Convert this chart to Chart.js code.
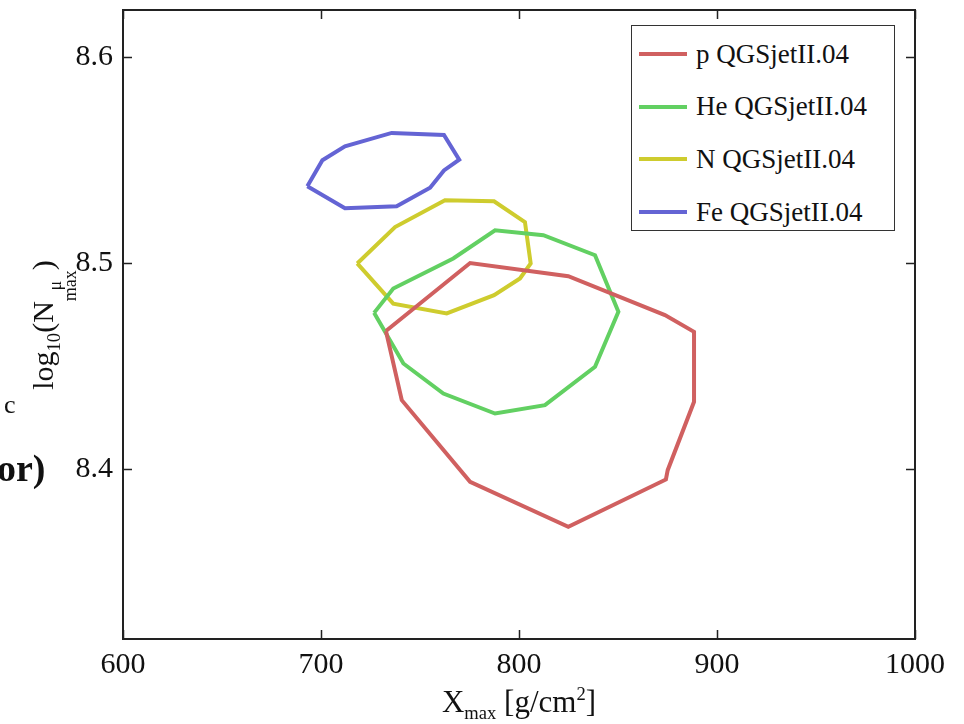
<!DOCTYPE html>
<html>
<head>
<meta charset="utf-8">
<script src="https://cdn.jsdelivr.net/npm/chart.js@4"></script>
<style>
    body { margin: 0; background: #fff; }
    #wrap { position: relative; width: 964px; height: 724px; font-family: "Liberation Serif", serif; color: #111; }
    #myChart { position: absolute; left: 0; top: 0; }
    .txt { position: absolute; white-space: nowrap; line-height: 1; }
    #legend { position: absolute; left: 631px; top: 25px; width: 262px; height: 204px; border: 1.5px solid #333; background: #fff; }
    .row { position: absolute; left: 0; height: 30px; display: flex; align-items: center; font-size: 27px; }
    .swatch { display: inline-block; width: 48px; height: 4px; margin-left: 7px; margin-right: 9px; }
    .stack { display: inline-flex; flex-direction: column; vertical-align: -0.42em; font-size: 0.6em; line-height: 0.85; text-align: center; }
</style>
</head>
<body>
<div id="wrap">
    <canvas id="myChart" width="964" height="724"></canvas>

    <!-- fragments of the neighbouring slide, cut off at the left edge -->
    <div class="txt" style="left:4px; top:392px; font-size:26px;">c</div>
    <div class="txt" style="left:-3px; top:449px; font-size:38px; font-weight:bold;">or)</div>

    <div class="txt" id="ytitle" style="left:53px; top:325px; font-size:30px; transform: translate(-50%, -50%) rotate(-90deg);">
        log<sub style="font-size:0.62em">10</sub>(N<span class="stack"><span>&mu;</span><span>max</span></span>)
    </div>
    <div class="txt" id="xtitle" style="left:519px; top:704px; font-size:31px; transform: translate(-50%, -50%);">
        X<sub style="font-size:0.6em">max</sub> [g/cm<sup style="font-size:0.6em">2</sup>]
    </div>

    <div id="legend"></div>
</div>

<script>
    // Contour points (Xmax in g/cm2, log10 of muon number)
    var pX  = [732.8, 775.3, 824.9, 873.7, 888.4, 888.4, 875.1, 874.2, 824.9, 775.3, 740.8];
    var pY  = [8.4671, 8.5001, 8.4937, 8.4748, 8.4667, 8.4327, 8.3995, 8.3950, 8.3720, 8.3938, 8.4335];

    var heX = [726.8, 736.5, 766.8, 787.9, 812.3, 838.4, 850.2, 838.4, 813.1, 787.9, 761.8, 741.6];
    var heY = [8.4759, 8.4877, 8.5023, 8.5160, 8.5136, 8.5039, 8.4764, 8.4497, 8.4311, 8.4270, 8.4367, 8.4513];

    var nX  = [718.3, 737.4, 762.6, 787.4, 803.0, 805.9, 800.5, 787.4, 763.5, 736.5];
    var nY  = [8.4999, 8.5176, 8.5306, 8.5301, 8.5200, 8.4999, 8.4926, 8.4845, 8.4756, 8.4804];

    var feX = [693.1, 700.7, 712.1, 735.7, 762.1, 769.8, 762.1, 755.1, 738.2, 712.1];
    var feY = [8.5374, 8.5500, 8.5568, 8.5633, 8.5623, 8.5503, 8.5451, 8.5367, 8.5277, 8.5267];

    var seriesNames  = ["p QGSjetII.04", "He QGSjetII.04", "N QGSjetII.04", "Fe QGSjetII.04"];
    var seriesColors = ["rgb(208,96,96)", "rgb(98,208,98)", "rgb(206,204,46)", "rgb(100,100,212)"];

    var xTicks = [600, 700, 800, 900, 1000];
    var yTicks = [8.4, 8.5, 8.6];

    // turn two arrays into a closed contour
    function contour(xs, ys) {
        var pts = xs.map((x, i) => ({x: x, y: ys[i]}));
        pts.push(pts[0]);
        return pts;
    }

    var contours = [contour(pX, pY), contour(heX, heY), contour(nX, nY), contour(feX, feY)];

    // Frame round the plot, with ticks pointing inwards on all four sides
    var framePlugin = {
        id: 'frame',
        afterDraw(chart) {
            var ctx = chart.ctx;
            var a = chart.chartArea;
            var xs = chart.scales.x, ys = chart.scales.y;
            ctx.save();
            ctx.strokeStyle = '#222';
            ctx.lineWidth = 1.5;
            xTicks.forEach((v) => {
                var px = Math.round(xs.getPixelForValue(v)) + 0.5;
                ctx.beginPath();
                ctx.moveTo(px, a.bottom); ctx.lineTo(px, a.bottom - 9);
                ctx.moveTo(px, a.top); ctx.lineTo(px, a.top + 9);
                ctx.stroke();
            });
            yTicks.forEach((v) => {
                var py = Math.round(ys.getPixelForValue(v)) + 0.5;
                ctx.beginPath();
                ctx.moveTo(a.left, py); ctx.lineTo(a.left + 9, py);
                ctx.moveTo(a.right, py); ctx.lineTo(a.right - 9, py);
                ctx.stroke();
            });
            ctx.lineWidth = 2;
            ctx.strokeRect(a.left, a.top, a.right - a.left, a.bottom - a.top);
            ctx.restore();
        }
    };

    var ctx = document.getElementById('myChart').getContext('2d');

    var myChart = new Chart(ctx, {
        type: 'scatter',
        data: {
            datasets: contours.map((pts, i) => ({
                label: seriesNames[i],
                data: pts,
                showLine: true,
                borderColor: seriesColors[i],
                backgroundColor: seriesColors[i],
                borderWidth: 4,
                pointRadius: 0,
                tension: 0
            }))
        },
        options: {
            responsive: false,
            animation: false,
            layout: { padding: { top: 10, right: 49, left: 0, bottom: 0 } },
            plugins: {
                legend: { display: false },
                tooltip: { enabled: false }
            },
            scales: {
                x: {
                    type: 'linear',
                    min: 600,
                    max: 1000,
                    grid: { display: false, drawTicks: false },
                    border: { display: false },
                    afterBuildTicks: (s) => { s.ticks = xTicks.map((v) => ({value: v})); },
                    afterFit: (s) => { s.height = 85; s.paddingLeft = 0; s.paddingRight = 0; },
                    ticks: {
                        padding: 8,
                        color: '#111',
                        font: { family: 'Liberation Serif', size: 30 },
                        callback: (v) => String(v)
                    }
                },
                y: {
                    type: 'linear',
                    min: 8.3175,
                    max: 8.623,
                    grid: { display: false, drawTicks: false },
                    border: { display: false },
                    afterBuildTicks: (s) => { s.ticks = yTicks.map((v) => ({value: v})); },
                    afterFit: (s) => { s.width = 123; s.paddingTop = 0; s.paddingBottom = 0; },
                    ticks: {
                        padding: 10,
                        color: '#111',
                        font: { family: 'Liberation Serif', size: 30 },
                        callback: (v) => v.toFixed(1)
                    }
                }
            }
        },
        plugins: [framePlugin]
    });

    // Legend box in the upper right corner, built from the series names
    var legend = document.getElementById('legend');
    seriesNames.forEach((name, i) => {
        var row = document.createElement('div');
        row.className = 'row';
        row.style.top = (13 + i * 52.7) + 'px';
        row.innerHTML = '<span class="swatch" style="background:' + seriesColors[i] + '"></span>' + name;
        legend.appendChild(row);
    });
</script>
</body>
</html>
